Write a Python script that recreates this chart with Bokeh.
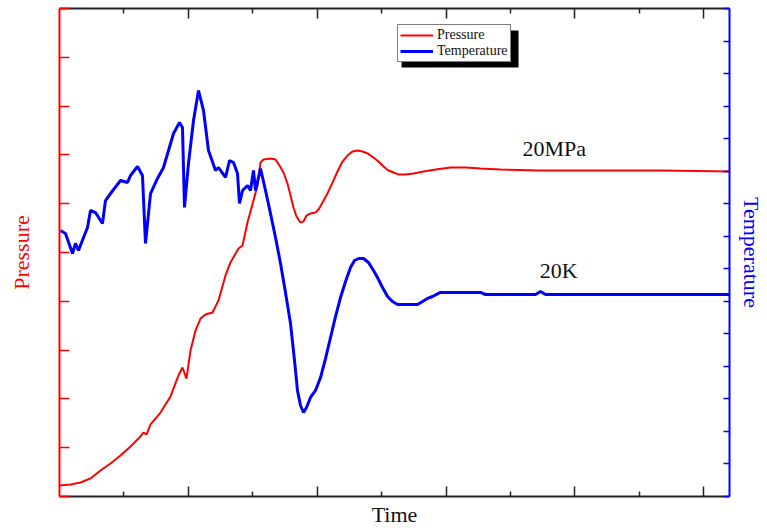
from bokeh.plotting import figure
from bokeh.models import (Range1d, LinearAxis, FixedTicker, Legend, LegendItem, Label,
                          BoxAnnotation, CustomJSTickFormatter)
from bokeh.embed import file_html
from bokeh.resources import INLINE

# ---- data (time in arbitrary units, pressure in MPa, temperature in K) ----
time_p = [0.0, 0.171, 0.326, 0.481, 0.636, 0.792, 0.947, 1.102, 1.257, 1.304, 1.350,
          1.413, 1.568, 1.723, 1.847, 1.909, 1.971, 2.034, 2.111, 2.189, 2.266, 2.375,
          2.468, 2.577, 2.654, 2.779, 2.841, 2.918, 3.011, 3.074, 3.120, 3.167, 3.275,
          3.353, 3.415, 3.477, 3.539, 3.586, 3.632, 3.679, 3.741, 3.788, 3.834, 3.896,
          3.974, 4.021, 4.083, 4.160, 4.238, 4.315, 4.393, 4.471, 4.548, 4.626, 4.704,
          4.781, 4.874, 4.952, 5.029, 5.107, 5.185, 5.262, 5.371, 5.495, 5.650, 5.837,
          6.070, 6.302, 6.535, 6.846, 7.467, 8.398, 9.330, 10.40]
pressure = [0.68, 0.74, 0.86, 1.11, 1.60, 2.03, 2.52, 3.07, 3.69, 3.93, 3.81,
            4.43, 5.16, 6.15, 7.44, 7.93, 7.25, 8.98, 10.20, 10.94, 11.19, 11.31,
            12.05, 13.59, 14.39, 15.25, 15.43, 16.84, 18.20, 19.12, 20.53, 20.72, 20.78,
            20.72, 20.35, 19.92, 19.24, 18.50, 17.77, 17.21, 16.84, 16.91, 17.27, 17.40,
            17.46, 17.64, 18.07, 18.63, 19.30, 19.98, 20.59, 20.96, 21.21, 21.27, 21.21,
            21.09, 20.84, 20.59, 20.29, 20.04, 19.92, 19.80, 19.80, 19.86, 19.98, 20.10,
            20.23, 20.23, 20.16, 20.10, 20.04, 20.04, 20.04, 19.98]

time_t = [0.016, 0.093, 0.202, 0.248, 0.295, 0.373, 0.435, 0.481, 0.559, 0.667, 0.714,
          0.792, 0.947, 1.056, 1.102, 1.211, 1.288, 1.335, 1.413, 1.521, 1.614, 1.692,
          1.770, 1.863, 1.909, 1.940, 2.002, 2.080, 2.158, 2.235, 2.313, 2.422, 2.468,
          2.577, 2.639, 2.701, 2.763, 2.794, 2.841, 2.918, 2.965, 3.011, 3.043, 3.120,
          3.198, 3.275, 3.353, 3.431, 3.508, 3.586, 3.648, 3.694, 3.741, 3.788, 3.834,
          3.896, 3.974, 4.052, 4.129, 4.207, 4.284, 4.362, 4.440, 4.517, 4.579, 4.641,
          4.719, 4.797, 4.874, 4.936, 5.014, 5.092, 5.169, 5.247, 5.371, 5.557, 5.635,
          5.712, 5.790, 5.914, 6.535, 6.613, 7.389, 7.467, 7.544, 10.40]
temperature = [26.16, 25.87, 23.90, 24.89, 24.20, 25.48, 26.46, 28.13, 27.93, 26.85, 29.11,
               29.80, 31.08, 30.89, 31.57, 32.46, 31.57, 24.89, 29.80, 31.28, 32.36, 34.03,
               35.70, 36.79, 36.30, 28.43, 32.75, 36.98, 39.93, 37.97, 34.03, 32.07, 32.36,
               31.38, 33.05, 32.85, 31.77, 28.82, 30.10, 30.59, 30.10, 32.07, 30.10, 32.26,
               30.10, 27.84, 25.48, 22.92, 20.07, 17.02, 13.38, 10.43, 8.95, 8.26, 8.75,
               9.74, 10.43, 11.70, 13.57, 15.64, 17.70, 19.57, 21.15, 22.52, 23.21, 23.41,
               23.41, 23.02, 22.23, 21.54, 20.56, 19.67, 19.18, 18.89, 18.89, 18.89, 19.18,
               19.48, 19.67, 20.07, 20.07, 19.87, 19.87, 20.16, 19.87, 19.87]

x_minor_ticks = [1, 3, 5, 7, 9]
x_major_ticks = [2, 4, 6, 8, 10]
p_ticks = [0, 3, 6, 9, 12, 15, 18, 21, 24, 27, 30]
t_ticks = [round(i * 3.2, 1) for i in range(16)]

annot_p = ("20MPa", 7.68, 21.39)
annot_t = ("20K", 7.75, 22.23)

SERIF = "Liberation Serif"

p = figure(width=767, height=530, output_backend="svg", toolbar_location=None,
           x_range=Range1d(0, 10.4), y_range=Range1d(0, 30),
           x_axis_location=None, y_axis_location=None,
           min_border_left=59, min_border_right=38, min_border_top=8, min_border_bottom=34)
p.extra_y_ranges = {"temp": Range1d(0, 48)}
p.grid.visible = False
p.outline_line_color = None
p.background_fill_color = "white"
p.border_fill_color = "white"

blank = CustomJSTickFormatter(code="return ''")

def no_labels(ax):
    ax.formatter = blank
    ax.major_label_text_font_size = "1px"
    ax.major_label_standoff = 0

def style_x(ax):
    ax.ticker = FixedTicker(ticks=x_major_ticks, minor_ticks=x_minor_ticks)
    ax.major_tick_in = 10
    ax.major_tick_out = 0
    ax.minor_tick_in = 5
    ax.minor_tick_out = 0
    ax.axis_line_color = "#222222"
    ax.major_tick_line_color = "#222222"
    ax.minor_tick_line_color = "#222222"
    ax.axis_line_width = 2
    ax.major_tick_line_width = 1.5
    ax.minor_tick_line_width = 1.5
    no_labels(ax)

xb = LinearAxis(axis_label="Time")
style_x(xb)
xb.axis_label_text_font = SERIF
xb.axis_label_text_font_size = "22px"
xb.axis_label_text_font_style = "normal"
xb.axis_label_text_color = "#111111"
xb.axis_label_standoff = 5
p.add_layout(xb, "below")

xt = LinearAxis()
style_x(xt)
p.add_layout(xt, "above")

yl = LinearAxis(axis_label="Pressure", ticker=FixedTicker(ticks=p_ticks, minor_ticks=[]))
yl.axis_line_color = "red"
yl.major_tick_line_color = "red"
yl.axis_line_width = 2
yl.major_tick_line_width = 1.5
yl.major_tick_in = 10
yl.major_tick_out = 0
no_labels(yl)
yl.axis_label_text_font = SERIF
yl.axis_label_text_font_size = "22px"
yl.axis_label_text_font_style = "normal"
yl.axis_label_text_color = "red"
yl.axis_label_standoff = 26
p.add_layout(yl, "left")

yr = LinearAxis(y_range_name="temp", axis_label="Temperature",
                ticker=FixedTicker(ticks=t_ticks, minor_ticks=[]))
yr.axis_line_color = "blue"
yr.major_tick_line_color = "blue"
yr.axis_line_width = 2
yr.major_tick_line_width = 1.5
yr.major_tick_in = 6
yr.major_tick_out = 0
no_labels(yr)
yr.axis_label_text_font = SERIF
yr.axis_label_text_font_size = "22px"
yr.axis_label_text_font_style = "normal"
yr.axis_label_text_color = "blue"
yr.axis_label_standoff = 9
p.add_layout(yr, "right")

r_p = p.line(time_p, pressure, line_color="red", line_width=2)
r_t = p.line(time_t, temperature, line_color="blue", line_width=3, y_range_name="temp")

# legend drop shadow
p.add_layout(BoxAnnotation(left=5.31, right=7.125, top=28.65, bottom=26.37,
                           fill_color="black", fill_alpha=1, line_color=None))

lg = Legend(items=[LegendItem(label="Pressure", renderers=[r_p]),
                   LegendItem(label="Temperature", renderers=[r_t])],
            location=(338, 434))
lg.margin = 0
lg.padding = 2
lg.spacing = 0
lg.glyph_width = 33
lg.glyph_height = 16
lg.label_height = 16
lg.label_standoff = 4
lg.label_text_font = SERIF
lg.label_text_font_size = "14px"
lg.label_text_color = "#111111"
lg.border_line_color = "black"
lg.border_line_width = 1
lg.background_fill_color = "white"
lg.background_fill_alpha = 1
p.add_layout(lg, "center")

for (txt, xx, yy), rng in ((annot_p, "default"), (annot_t, "temp")):
    p.add_layout(Label(x=xx, y=yy, text=txt, y_range_name=rng, text_align="center",
                       text_baseline="middle", text_font=SERIF, text_font_size="22px",
                       text_color="#111111"))

open("out.html", "w").write(file_html(p, INLINE))
